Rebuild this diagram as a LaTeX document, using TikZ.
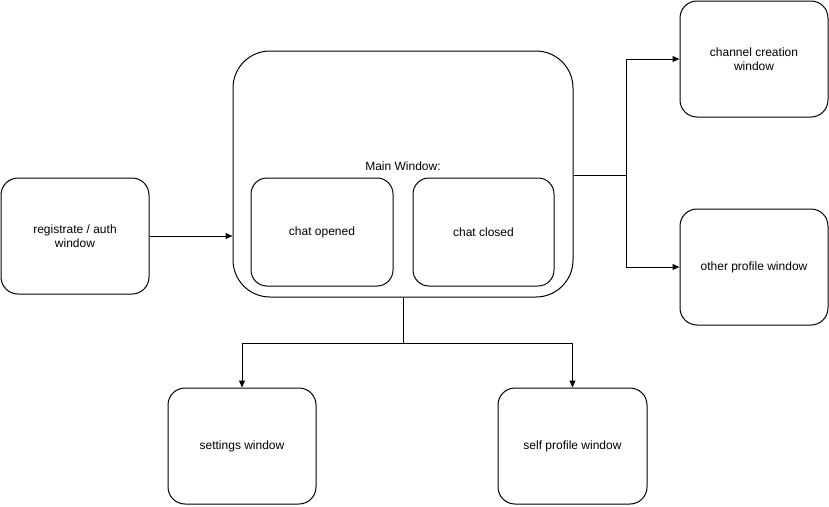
\documentclass[tikz,border=0pt]{standalone}
\usepackage{fontspec}
\setmainfont{Liberation Sans}
\usetikzlibrary{arrows.meta}
\begin{document}
\begin{tikzpicture}[x=1pt,y=-1pt,
  box/.style={draw,line width=1pt,rounded corners=17pt,align=center,font=\fontsize{12}{14}\selectfont,inner sep=0pt},
  conn/.style={line width=1pt,-{Triangle[length=7pt,width=6pt]}},
  plain/.style={line width=1pt}]
\useasboundingbox (0,0) rectangle (829,506);
\node[box,minimum width=148pt,minimum height=116pt] (reg) at (75,236) {registrate / auth\\window};
\node[box,rounded corners=37pt,minimum width=340pt,minimum height=246pt] (main) at (403,174) {};
\node[font=\fontsize{12}{14}\selectfont] (mlabel) at (403,166) {Main Window:};
\node[box,rounded corners=16pt,minimum width=142pt,minimum height=108pt] (open) at (322,232) {chat opened};
\node[box,rounded corners=16pt,minimum width=141pt,minimum height=108pt] (closed) at (483.5,232) {chat closed};
\node[box,minimum width=148pt,minimum height=116pt] (chan) at (754,59) {channel creation\\window};
\node[box,minimum width=148pt,minimum height=116pt] (other) at (754,267) {other profile window};
\node[box,minimum width=148pt,minimum height=116pt] (set) at (242,446) {settings window};
\node[box,minimum width=149pt,minimum height=116pt] (self) at (572.5,446) {self profile window};
\coordinate (rb) at (626.5,175);
\coordinate (bb) at (403,343);
\draw[conn] (reg.east |- 0,236) -- (main.west |- 0,236);
\draw[plain] (main.east |- rb) -- (rb);
\draw[conn] (rb) |- (chan.west);
\draw[conn] (rb) |- (other.west);
\draw[plain] (main.south) -- (bb);
\draw[conn] (bb) -| (set.north);
\draw[conn] (bb) -| (self.north);
\end{tikzpicture}
\end{document}
